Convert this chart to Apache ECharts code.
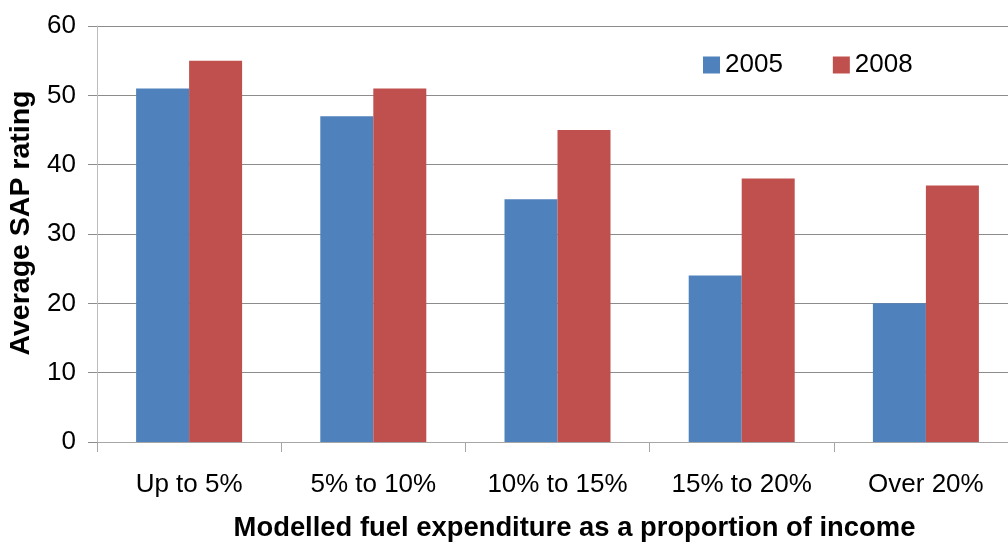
<!DOCTYPE html>
<html>
<head>
<meta charset="utf-8">
<script src="https://cdn.jsdelivr.net/npm/echarts@6/dist/echarts.min.js"></script>
<style>
  html, body { margin: 0; padding: 0; background: #fff; }
  #chart { width: 1008px; height: 543px; }
</style>
</head>
<body>
<div id="chart"></div>
<script>
  // Fuel expenditure bands and average SAP rating per survey year
  const categories = ['Up to 5%', '5% to 10%', '10% to 15%', '15% to 20%', 'Over 20%'];
  const sap2005 = [51, 47, 35, 24, 20];
  const sap2008 = [55, 51, 45, 38, 37];
  const yTicks = { min: 0, max: 60, interval: 10 };

  const font = 'Liberation Sans, Arial, sans-serif';
  const chart = echarts.init(document.getElementById('chart'), null, { renderer: 'canvas' });

  chart.setOption({
    animation: false,
    backgroundColor: '#ffffff',
    textStyle: { fontFamily: font, color: '#000' },
    // plot area runs slightly past the right edge of the canvas
    grid: { left: 97, top: 26, width: 921, height: 416, containLabel: false, outerBoundsMode: 'none' },
    legend: {
      left: 703,
      top: 52,
      padding: 0,
      itemWidth: 17,
      itemHeight: 17,
      itemGap: 50,
      icon: 'rect',
      textStyle: { fontFamily: font, fontSize: 26, color: '#000' },
      data: ['2005', '2008']
    },
    xAxis: {
      type: 'category',
      data: categories,
      name: 'Modelled fuel expenditure as a proportion of income',
      nameLocation: 'middle',
      nameGap: 73,
      nameTextStyle: { fontFamily: font, fontSize: 27.4, fontWeight: 'bold', color: '#000', padding: [0, 0, 0, 34] },
      axisLine: { lineStyle: { color: '#a6a6a6', width: 1 } },
      axisTick: { show: true, interval: 0, alignWithLabel: false, length: 10, lineStyle: { color: '#a6a6a6' } },
      axisLabel: { interval: 0, hideOverlap: false, fontFamily: font, fontSize: 26, color: '#000', margin: 30 },
      splitLine: { show: false }
    },
    yAxis: {
      type: 'value',
      min: yTicks.min,
      max: yTicks.max,
      interval: yTicks.interval,
      name: 'Average SAP rating',
      nameLocation: 'middle',
      nameGap: 61,
      nameRotate: 90,
      nameTextStyle: { fontFamily: font, fontSize: 28.5, fontWeight: 'bold', color: '#000', padding: [0, 0, 0, 22] },
      axisLine: { show: true, lineStyle: { color: '#bdbdbd', width: 1 } },
      axisTick: { show: true, length: 9, lineStyle: { color: '#8c8c8c' } },
      axisLabel: { fontFamily: font, fontSize: 26, color: '#000', margin: 21 },
      splitLine: { show: true, lineStyle: { color: '#8c8c8c', width: 1 } }
    },
    series: [
      {
        name: '2005',
        type: 'bar',
        data: sap2005,
        barWidth: 53,
        barGap: '0%',
        itemStyle: { color: '#4f81bd' }
      },
      {
        name: '2008',
        type: 'bar',
        data: sap2008,
        barWidth: 53,
        barGap: '0%',
        itemStyle: { color: '#c0504d' }
      }
    ]
  });
</script>
</body>
</html>
